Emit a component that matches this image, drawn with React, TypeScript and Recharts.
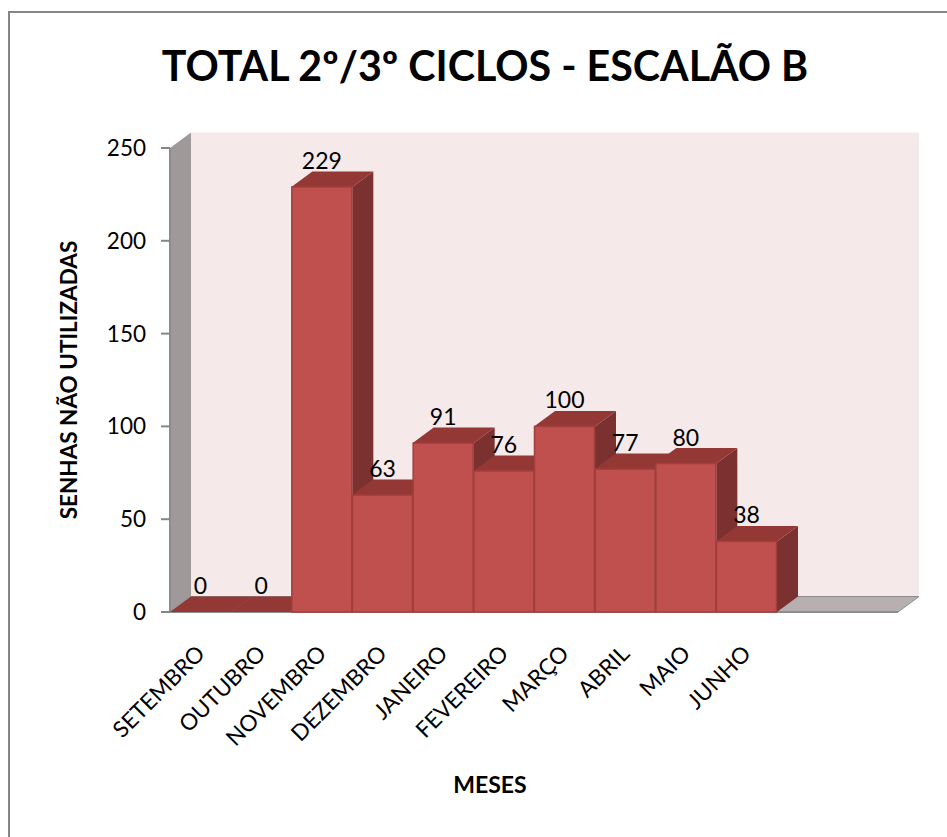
import React from "react";
import { BarChart, Bar, XAxis, YAxis, LabelList } from "recharts";

const meses = ["SETEMBRO", "OUTUBRO", "NOVEMBRO", "DEZEMBRO", "JANEIRO", "FEVEREIRO", "MARÇO", "ABRIL", "MAIO", "JUNHO", "", " "];
const senhas = [0, 0, 229, 63, 91, 76, 100, 77, 80, 38, null, null];
const yTicks = [0, 50, 100, 150, 200, 250];

const data = meses.map((mes, i) => ({ mes, senhas: senhas[i] }));

const FONT = "Lato, Carlito, sans-serif";
// plot box and the depth of the 3D effect
const LEFT = 170;
const RIGHT = 898;
const TOP = 148;
const BOTTOM = 612;
const DX = 21;
const DY = 15.5;

// the walls and floor behind the bars
function Walls() {
  return (
    <g>
      <rect x={LEFT + DX} y={TOP - DY} width={RIGHT - LEFT} height={BOTTOM - TOP} fill="#f5e9e9" />
      <polygon
        points={`${LEFT},${TOP} ${LEFT + DX},${TOP - DY} ${LEFT + DX},${BOTTOM - DY} ${LEFT},${BOTTOM}`}
        fill="#a09999"
      />
      <line x1={LEFT} y1={TOP} x2={LEFT} y2={BOTTOM} stroke="#8c8c8c" strokeWidth={2} />
      <polygon
        points={`${LEFT},${BOTTOM} ${LEFT + DX},${BOTTOM - DY} ${RIGHT + DX},${BOTTOM - DY} ${RIGHT},${BOTTOM}`}
        fill="#b8b0b0"
        stroke="#8c8c8c"
        strokeWidth={1}
      />
      <line x1={LEFT} y1={BOTTOM} x2={RIGHT} y2={BOTTOM} stroke="#8c8c8c" strokeWidth={2} />
    </g>
  );
}

function Bar3D(props: any) {
  const { x, y, width, height } = props;
  if (props.value == null) return null;
  const r = x + width;
  const b = y + height;
  return (
    <g>
      <polygon points={`${r},${y} ${r + DX},${y - DY} ${r + DX},${b - DY} ${r},${b}`} fill="#7a3130" />
      <polygon points={`${x},${y} ${x + DX},${y - DY} ${r + DX},${y - DY} ${r},${y}`} fill="#943836" />
      <rect x={x + 0.5} y={y} width={width - 1} height={height} fill="#c0504d" stroke="#a03f3c" strokeWidth={1.5} />
    </g>
  );
}

function BarValue(props: any) {
  const { x, y, width, value } = props;
  if (value == null) return null;
  return (
    <text x={x + width / 2} y={y - 18} textAnchor="middle" fontSize={23} fontFamily={FONT} fill="#000">
      {value}
    </text>
  );
}

function MesTick(props: any) {
  const { x, y, payload } = props;
  return (
    <text
      transform={`translate(${x + 6},${y + 35}) rotate(-45)`}
      textAnchor="end"
      fontSize={22.5}
      fontFamily={FONT}
      fill="#000"
    >
      {payload.value}
    </text>
  );
}

export default function App() {
  return (
    <div style={{ position: "absolute", left: 0, top: 0, width: 947, height: 837, background: "#fff" }}>
      <BarChart
        width={947}
        height={837}
        data={data}
        barCategoryGap={0}
        margin={{ top: TOP, right: 947 - RIGHT, bottom: 837 - BOTTOM - 150, left: LEFT - 70 }}
      >
        <rect x={9} y={12} width={1000} height={900} fill="#fff" stroke="#868686" strokeWidth={2} />
        <Walls />
        <text x={485} y={81} textAnchor="middle" fontSize={41.2} fontWeight={700} fontFamily={FONT} fill="#000">
          TOTAL 2º/3º CICLOS - ESCALÃO B
        </text>
        <text
          transform="translate(77,380) rotate(-90)"
          textAnchor="middle"
          fontSize={22.5}
          fontWeight={700}
          fontFamily={FONT}
          fill="#000"
        >
          SENHAS NÃO UTILIZADAS
        </text>
        <text x={490} y={793} textAnchor="middle" fontSize={23} fontWeight={700} fontFamily={FONT} fill="#000">
          MESES
        </text>
        <XAxis dataKey="mes" height={150} interval={0} axisLine={false} tickLine={false} tick={<MesTick />} />
        <YAxis
          width={70}
          domain={[0, 250]}
          ticks={yTicks}
          axisLine={false}
          tickLine={{ stroke: "#868686", strokeWidth: 2 }}
          tickSize={9}
          tickMargin={15}
          tick={{ fontSize: 22.5, fontFamily: FONT, fill: "#000" }}
        />
        <Bar dataKey="senhas" shape={<Bar3D />} isAnimationActive={false}>
          <LabelList dataKey="senhas" content={<BarValue />} />
        </Bar>
      </BarChart>
    </div>
  );
}
